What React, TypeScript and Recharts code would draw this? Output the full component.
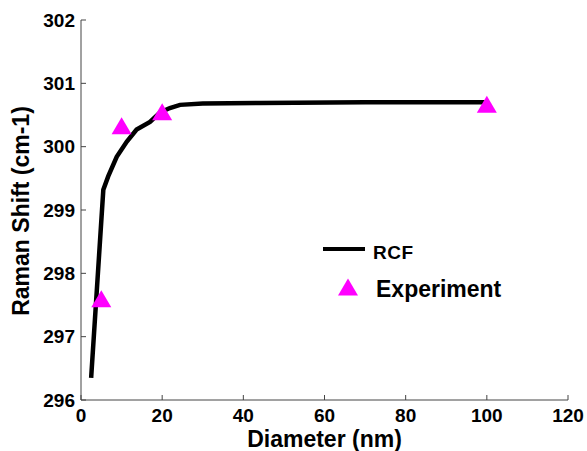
import React from 'react';
import { ComposedChart, Line, Scatter, XAxis, YAxis, Legend } from 'recharts';

// RCF model curve (diameter nm, Raman shift cm-1)
const rcfDiameter = [2.5, 5.5, 6.7, 8.8, 11.3, 13.7, 17, 19.5, 21.9, 24.4, 30, 44, 70, 100];
const rcfShift = [296.35, 299.32, 299.53, 299.84, 300.08, 300.27, 300.39, 300.54, 300.61, 300.66, 300.68, 300.69, 300.7, 300.7];

// Experimental points
const expDiameter = [5, 10, 20, 100];
const expShift = [297.6, 300.33, 300.55, 300.67];

const xTicks = [0, 20, 40, 60, 80, 100, 120];
const yTicks = [296, 297, 298, 299, 300, 301, 302];

const rcfData = rcfDiameter.map((d, i) => ({ d, s: rcfShift[i] }));
const expData = expDiameter.map((d, i) => ({ d, s: expShift[i] }));

const FONT = '"Liberation Sans", Arial, sans-serif';
const AXIS_COLOR = '#444';
const TICK_LEN = 5;
const X_MARGIN = 9;
const Y_MARGIN = 6;

const BottomTick = (props: any) => {
  const { x, y, payload } = props;
  const ay = y - X_MARGIN;
  return (
    <g>
      <line x1={x} y1={ay} x2={x} y2={ay - TICK_LEN} stroke={AXIS_COLOR} strokeWidth={1} />
      <text x={x} y={y} dy="0.71em" textAnchor="middle" fontFamily={FONT} fontWeight="bold" fontSize={19} fill="#000">
        {payload.value}
      </text>
    </g>
  );
};

const TopTick = (props: any) => {
  const { x, y } = props;
  return <line x1={x} y1={y} x2={x} y2={y + TICK_LEN} stroke={AXIS_COLOR} strokeWidth={1} />;
};

const LeftTick = (props: any) => {
  const { x, y, payload } = props;
  const ax = x + Y_MARGIN;
  return (
    <g>
      <line x1={ax} y1={y} x2={ax + TICK_LEN} y2={y} stroke={AXIS_COLOR} strokeWidth={1} />
      <text x={x} y={y} dy="0.355em" textAnchor="end" fontFamily={FONT} fontWeight="bold" fontSize={19} fill="#000">
        {payload.value}
      </text>
    </g>
  );
};

const RightTick = (props: any) => {
  const { x, y } = props;
  return <line x1={x} y1={y} x2={x - TICK_LEN} y2={y} stroke={AXIS_COLOR} strokeWidth={1} />;
};

const Triangle = (props: any) => {
  const { cx, cy } = props;
  if (cx == null || cy == null) return null;
  return <path d={`M${cx},${cy - 8.5} L${cx + 10},${cy + 8.5} L${cx - 10},${cy + 8.5} Z`} fill="#ff00ff" />;
};

const YTitle = (props: any) => {
  const vb = props.viewBox || {};
  const x = (vb.x ?? 0) + 29;
  const y = (vb.y ?? 0) + (vb.height ?? 0) / 2 + 1;
  return (
    <text x={x} y={y} transform={`rotate(-90, ${x}, ${y})`} textAnchor="middle" fontFamily={FONT} fontWeight="bold" fontSize={23} fill="#000">
      Raman Shift (cm-1)
    </text>
  );
};

const XTitle = (props: any) => {
  const vb = props.viewBox || {};
  const x = (vb.x ?? 0) + (vb.width ?? 0) / 2;
  const y = (vb.y ?? 0) + (vb.height ?? 0) - 4;
  return (
    <text x={x} y={y} textAnchor="middle" fontFamily={FONT} fontWeight="bold" fontSize={23} fill="#000">
      Diameter (nm)
    </text>
  );
};

const LegendBox = () => (
  <svg width={210} height={75} style={{ display: 'block' }}>
    <line x1={13} y1={17} x2={55} y2={17} stroke="#000" strokeWidth={4} />
    <text x={63} y={27} fontFamily={FONT} fontWeight="bold" fontSize={19} letterSpacing={0.5} fill="#000">RCF</text>
    <path d="M38,46.5 L48,63.5 L28,63.5 Z" fill="#ff00ff" />
    <text x={66} y={65} fontFamily={FONT} fontWeight="bold" fontSize={23} fill="#000">Experiment</text>
  </svg>
);

export default function App() {
  return (
    <div style={{ position: 'absolute', left: 0, top: 0, width: 587, height: 451, background: '#fff' }}>
      <ComposedChart width={587} height={451} margin={{ top: 20, right: 19, bottom: 0, left: 0 }}>
        <XAxis
          xAxisId="b"
          dataKey="d"
          type="number"
          domain={[0, 120]}
          ticks={xTicks}
          interval={0}
          height={51}
          tickSize={0}
          tickMargin={X_MARGIN}
          tick={<BottomTick />}
          axisLine={{ stroke: AXIS_COLOR, strokeWidth: 1 }}
          label={<XTitle />}
          allowDataOverflow
        />
        <XAxis
          xAxisId="t"
          orientation="top"
          dataKey="d"
          type="number"
          domain={[0, 120]}
          ticks={xTicks}
          interval={0}
          height={0}
          tickSize={0}
          tickMargin={0}
          tick={<TopTick />}
          axisLine={{ stroke: AXIS_COLOR, strokeWidth: 1 }}
          allowDataOverflow
        />
        <YAxis
          yAxisId="l"
          dataKey="s"
          type="number"
          domain={[296, 302]}
          ticks={yTicks}
          interval={0}
          width={81}
          tickSize={0}
          tickMargin={Y_MARGIN}
          tick={<LeftTick />}
          axisLine={{ stroke: AXIS_COLOR, strokeWidth: 1 }}
          label={<YTitle />}
          allowDataOverflow
        />
        <YAxis
          yAxisId="r"
          orientation="right"
          dataKey="s"
          type="number"
          domain={[296, 302]}
          ticks={yTicks}
          interval={0}
          width={0}
          tickSize={0}
          tickMargin={0}
          tick={<RightTick />}
          axisLine={{ stroke: AXIS_COLOR, strokeWidth: 1 }}
          allowDataOverflow
        />
        <Line
          xAxisId="b"
          yAxisId="l"
          data={rcfData}
          dataKey="s"
          type="linear"
          stroke="#000"
          strokeWidth={4.5}
          dot={false}
          activeDot={false}
          isAnimationActive={false}
          legendType="none"
        />
        <Scatter
          xAxisId="b"
          yAxisId="l"
          data={expData}
          dataKey="s"
          shape={<Triangle />}
          isAnimationActive={false}
          legendType="none"
        />
        <Legend
          layout="vertical"
          align="center"
          verticalAlign="middle"
          content={<LegendBox />}
          wrapperStyle={{ position: 'absolute', left: 310, top: 232, width: 210, height: 75 }}
        />
      </ComposedChart>
    </div>
  );
}
